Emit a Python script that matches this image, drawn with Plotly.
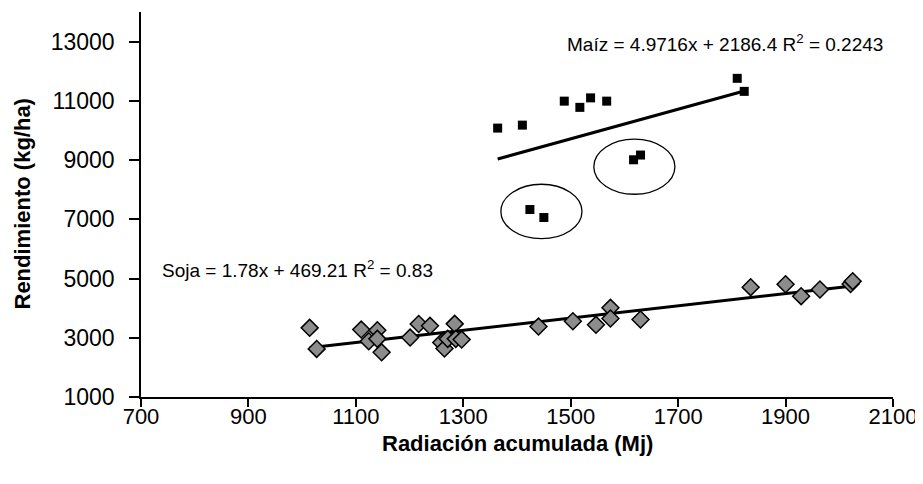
import numpy as np
import plotly.graph_objects as go

# Maíz data (Radiación acumulada Mj, Rendimiento kg/ha)
maiz_x = [1364, 1410, 1488, 1517, 1537, 1567, 1810, 1823, 1424, 1450, 1617, 1630]
maiz_y = [10080, 10180, 10990, 10780, 11100, 10990, 11760, 11320, 7330, 7060, 9010, 9170]

# Soja data
soja_x = [1014, 1027, 1110, 1124, 1140, 1140, 1148, 1201, 1217, 1238,
          1259, 1265, 1271, 1284, 1286, 1297, 1440, 1504, 1547, 1574,
          1574, 1630, 1835, 1900, 1929, 1964, 2021, 2025]
soja_y = [3335, 2624, 3277, 2882, 3254, 2963, 2509, 3007, 3464, 3403,
          2838, 2635, 2963, 3470, 2963, 2939, 3379, 3558, 3437, 4012,
          3650, 3616, 4709, 4807, 4404, 4631, 4817, 4912]

x_ticks = [700, 900, 1100, 1300, 1500, 1700, 1900, 2100]
y_ticks = [1000, 3000, 5000, 7000, 9000, 11000, 13000]

maiz_label = "Maíz = 4.9716x + 2186.4 R<sup>2</sup> = 0.2243"
soja_label = "Soja = 1.78x + 469.21 R<sup>2</sup> = 0.83"
x_title = "<b>Radiación acumulada (Mj)</b>"
y_title = "<b>Rendimiento (kg/ha)</b>"

FONT = "Liberation Sans, Arial, sans-serif"

def fit_line(xs, ys):
    m, b = np.polyfit(xs, ys, 1)
    xx = np.array([min(xs), max(xs)])
    return xx, m * xx + b

fig = go.Figure()

mx, my = fit_line(maiz_x, maiz_y)
sx, sy = fit_line(soja_x, soja_y)

fig.add_trace(go.Scatter(x=mx, y=my, mode="lines",
                         line=dict(color="black", width=3), showlegend=False, hoverinfo="skip"))
fig.add_trace(go.Scatter(x=sx, y=sy, mode="lines",
                         line=dict(color="black", width=3), showlegend=False, hoverinfo="skip"))

fig.add_trace(go.Scatter(x=maiz_x, y=maiz_y, mode="markers", name="Maíz",
                         marker=dict(symbol="square", size=9, color="black",
                                     line=dict(color="black", width=0)),
                         showlegend=False))
fig.add_trace(go.Scatter(x=soja_x, y=soja_y, mode="markers", name="Soja",
                         marker=dict(symbol="diamond", size=13, color="#8c8c8c",
                                     line=dict(color="black", width=1.5)),
                         showlegend=False))

# Ellipses highlighting points
fig.add_shape(type="circle", xref="x", yref="y", x0=1370, x1=1521, y0=6347, y1=8184,
              line=dict(color="black", width=1.3))
fig.add_shape(type="circle", xref="x", yref="y", x0=1543, x1=1694, y0=7846, y1=9707,
              line=dict(color="black", width=1.3))

fig.add_annotation(x=1489, y=12956, xref="x", yref="y", text=maiz_label,
                   showarrow=False, xanchor="left", yanchor="middle",
                   font=dict(family=FONT, size=19, color="black"))
fig.add_annotation(x=735, y=5308, xref="x", yref="y", text=soja_label,
                   showarrow=False, xanchor="left", yanchor="middle",
                   font=dict(family=FONT, size=19, color="black"))

# Axis titles (plot area: 752 x 385 px)
fig.add_annotation(x=0.5, y=-46 / 385, xref="paper", yref="paper", text=x_title,
                   showarrow=False, xanchor="center", yanchor="middle",
                   font=dict(family=FONT, size=22, color="black"))
fig.add_annotation(x=(22 - 141) / 752, y=0.5, xref="paper", yref="paper", text=y_title,
                   showarrow=False, xanchor="center", yanchor="middle", textangle=-90,
                   font=dict(family=FONT, size=22, color="black"))

# page body has an 8 px margin; figure sized/margined so plot area lands at x 141-893, y 12-397
fig.update_layout(
    width=915, height=476, autosize=False,
    margin=dict(l=133, r=30, t=4, b=87),
    plot_bgcolor="white", paper_bgcolor="white",
    font=dict(family=FONT, color="black"),
)
fig.update_xaxes(range=[700, 2100], tickvals=x_ticks, ticktext=[str(v) for v in x_ticks],
                 automargin=False, ticklabelstandoff=-9,
                 showgrid=False, zeroline=False, showline=True, linecolor="black", linewidth=1.5,
                 ticks="outside", ticklen=8, tickwidth=1.5, tickcolor="black",
                 tickfont=dict(family=FONT, size=22))
fig.update_yaxes(range=[1000, 14000], tickvals=y_ticks, ticktext=[str(v) for v in y_ticks],
                 automargin=False, ticklabelstandoff=10,
                 showgrid=False, zeroline=False, showline=True, linecolor="black", linewidth=1.5,
                 ticks="outside", ticklen=10, tickwidth=1.5, tickcolor="black",
                 tickfont=dict(family=FONT, size=23))

fig.write_html("out.html")
